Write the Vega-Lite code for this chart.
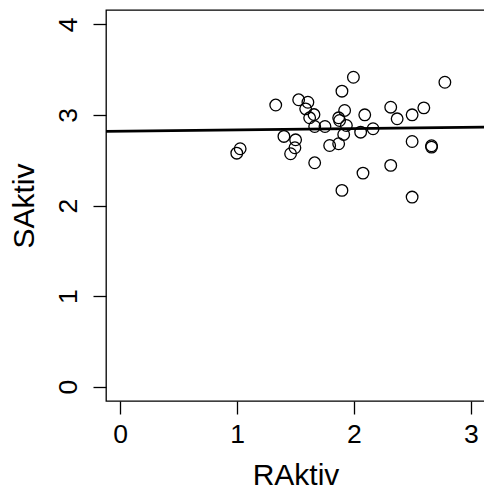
{
  "$schema": "https://vega.github.io/schema/vega-lite/v6.json",
  "width": 379,
  "height": 391,
  "autosize": {"type": "none"},
  "padding": {"left": 106, "top": 10, "right": 0, "bottom": 94},
  "background": "white",
  "datasets": {
    "pts": [
      {"RAktiv": 0.998, "SAktiv": 2.578},
      {"RAktiv": 1.027, "SAktiv": 2.627},
      {"RAktiv": 1.331, "SAktiv": 3.11},
      {"RAktiv": 1.401, "SAktiv": 2.763},
      {"RAktiv": 1.458, "SAktiv": 2.572},
      {"RAktiv": 1.495, "SAktiv": 2.638},
      {"RAktiv": 1.501, "SAktiv": 2.726},
      {"RAktiv": 1.527, "SAktiv": 3.168},
      {"RAktiv": 1.587, "SAktiv": 3.068},
      {"RAktiv": 1.606, "SAktiv": 3.141},
      {"RAktiv": 1.621, "SAktiv": 2.969},
      {"RAktiv": 1.658, "SAktiv": 3.005},
      {"RAktiv": 1.664, "SAktiv": 2.873},
      {"RAktiv": 1.664, "SAktiv": 2.472},
      {"RAktiv": 1.752, "SAktiv": 2.873},
      {"RAktiv": 1.792, "SAktiv": 2.663},
      {"RAktiv": 1.869, "SAktiv": 2.682},
      {"RAktiv": 1.869, "SAktiv": 2.969},
      {"RAktiv": 1.877, "SAktiv": 2.939},
      {"RAktiv": 1.897, "SAktiv": 3.263},
      {"RAktiv": 1.897, "SAktiv": 2.167},
      {"RAktiv": 1.912, "SAktiv": 2.785},
      {"RAktiv": 1.92, "SAktiv": 3.05},
      {"RAktiv": 1.935, "SAktiv": 2.884},
      {"RAktiv": 1.995, "SAktiv": 3.417},
      {"RAktiv": 2.057, "SAktiv": 2.81},
      {"RAktiv": 2.077, "SAktiv": 2.358},
      {"RAktiv": 2.092, "SAktiv": 3.002},
      {"RAktiv": 2.163, "SAktiv": 2.848},
      {"RAktiv": 2.314, "SAktiv": 3.086},
      {"RAktiv": 2.314, "SAktiv": 2.443},
      {"RAktiv": 2.369, "SAktiv": 2.958},
      {"RAktiv": 2.497, "SAktiv": 3.002},
      {"RAktiv": 2.497, "SAktiv": 2.707},
      {"RAktiv": 2.497, "SAktiv": 2.093},
      {"RAktiv": 2.597, "SAktiv": 3.079},
      {"RAktiv": 2.663, "SAktiv": 2.66},
      {"RAktiv": 2.663, "SAktiv": 2.645},
      {"RAktiv": 2.777, "SAktiv": 3.362}
    ],
    "fit": [
      {"RAktiv": -0.12, "SAktiv": 2.818},
      {"RAktiv": 3.12, "SAktiv": 2.865}
    ]
  },
  "layer": [
    {
      "data": {"name": "fit"},
      "mark": {"type": "line", "color": "black", "strokeWidth": 2.7, "clip": true},
      "encoding": {
        "x": {"field": "RAktiv", "type": "quantitative"},
        "y": {"field": "SAktiv", "type": "quantitative"}
      }
    },
    {
      "data": {"name": "pts"},
      "mark": {"type": "point", "shape": "circle", "filled": false, "color": "black", "strokeWidth": 1.3, "size": 135, "opacity": 1},
      "encoding": {
        "x": {
          "field": "RAktiv", "type": "quantitative",
          "scale": {"domain": [-0.12, 3.12], "nice": false, "zero": false},
          "axis": {"values": [0, 1, 2, 3], "format": "d", "title": "RAktiv", "titleX": 189.5, "titleY": 83.3, "titleBaseline": "alphabetic", "titleAlign": "center", "labelPadding": 7}
        },
        "y": {
          "field": "SAktiv", "type": "quantitative",
          "scale": {"domain": [-0.16, 4.16], "nice": false, "zero": false},
          "axis": {"values": [0, 1, 2, 3, 4], "format": "d", "title": "SAktiv", "titleX": -72.7, "titleY": 195.5, "titleAngle": -90, "titleBaseline": "alphabetic", "titleAlign": "center", "labelAngle": -90, "labelAlign": "center", "labelBaseline": "alphabetic", "labelPadding": 17}
        }
      }
    }
  ],
  "config": {
    "view": {"stroke": "black", "strokeWidth": 1.3},
    "axis": {
      "domain": false,
      "grid": false,
      "ticks": true,
      "tickSize": 13,
      "tickColor": "black",
      "tickWidth": 1.3,
      "labelFont": "Liberation Sans",
      "labelFontSize": 26.5,
      "labelColor": "black",
      "labelFlush": false,
      "labelOverlap": false,
      "titleFont": "Liberation Sans",
      "titleFontSize": 30,
      "titleFontWeight": "normal",
      "titleColor": "black"
    }
  }
}
